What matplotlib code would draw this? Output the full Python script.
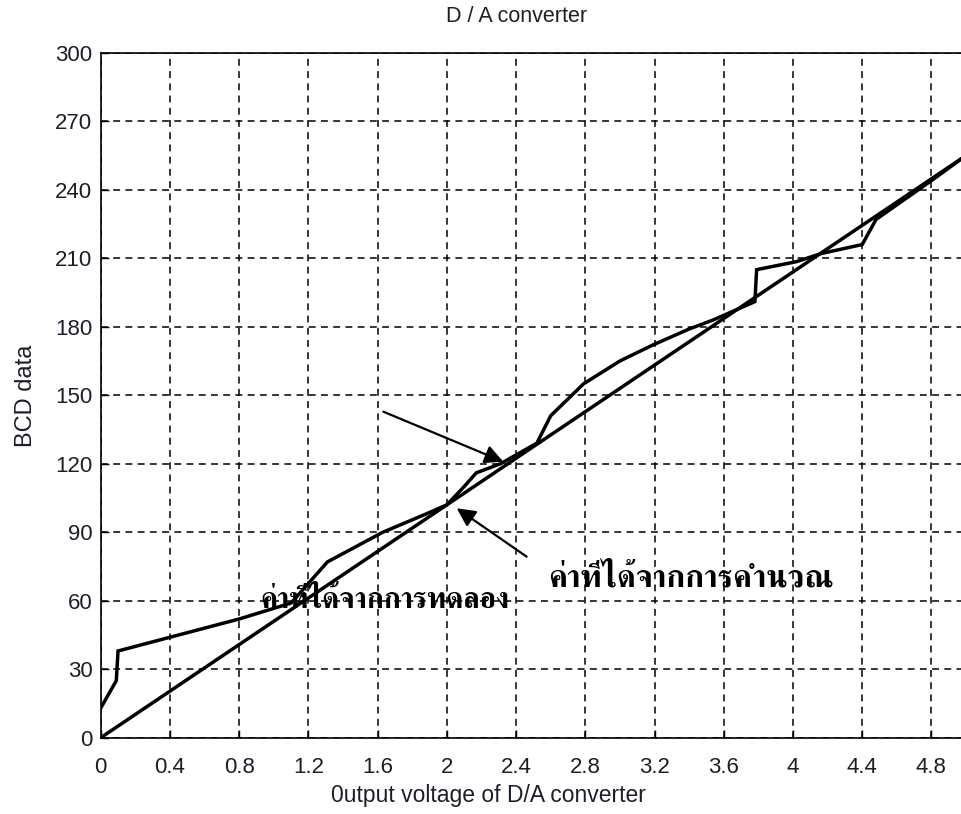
import matplotlib
matplotlib.use("Agg")
import matplotlib.pyplot as plt
from matplotlib import font_manager
from matplotlib.ft2font import FT2Font

# Measured D/A output (experiment) and computed values
exp_volt = [0.00, 0.09, 0.10, 0.80, 1.10, 1.31, 1.63, 1.88, 2.00, 2.10, 2.17, 2.31,
            2.38, 2.52, 2.60, 2.79, 3.00, 3.19, 3.40, 3.54, 3.78, 3.79, 4.02, 4.16,
            4.40, 4.48, 4.80, 5.00]
exp_bcd = [13, 25, 38, 52, 59, 77, 90, 98, 102, 110, 116, 120,
           123, 129, 141, 155, 165, 172, 179, 183, 191, 205, 208.5, 212,
           216, 227, 244, 255]

calc_volt = [0.0, 5.0]
calc_bcd = [0, 255]

x_ticks = [0, 0.4, 0.8, 1.2, 1.6, 2, 2.4, 2.8, 3.2, 3.6, 4, 4.4, 4.8]
x_tick_labels = ["0", "0.4", "0.8", "1.2", "1.6", "2", "2.4", "2.8", "3.2", "3.6", "4", "4.4", "4.8"]
y_ticks = [0, 30, 60, 90, 120, 150, 180, 210, 240, 270, 300]

label_exp = "ค่าที่ได้จากการทดลอง"
label_calc = "ค่าที่ได้จากการคำนวณ"


def thai_font():
    """Pick an installed font that actually contains Thai glyphs."""
    preferred = []
    others = []
    for f in font_manager.fontManager.ttflist:
        try:
            cmap = FT2Font(f.fname).get_charmap()
        except Exception:
            continue
        if 0x0E04 in cmap and 0x0E32 in cmap:
            if "Serif" in f.name:
                preferred.append(f.name)
            else:
                others.append(f.name)
    names = preferred + others
    return names[0] if names else "DejaVu Sans"


thai = thai_font()
txt_color = "#1e1e2a"

fig = plt.figure(figsize=(9.62, 8.14), dpi=100)
ax = fig.add_axes([0.1047, 0.0937, 0.8995, 0.8415])

ax.plot(calc_volt, calc_bcd, color="black", lw=2.5, solid_joinstyle="miter")
ax.plot(exp_volt, exp_bcd, color="black", lw=2.5, solid_joinstyle="miter")

ax.set_xlim(0, 5)
ax.set_ylim(0, 300)
ax.set_xticks(x_ticks)
ax.set_xticklabels(x_tick_labels)
ax.set_yticks(y_ticks)

ax.grid(True, color="black", linestyle=(0, (4.5, 3.5)), linewidth=1.1)
ax.tick_params(direction="in", length=6, width=1, colors="black",
               labelcolor=txt_color, labelsize=16)
ax.tick_params(axis="x", pad=14)
ax.tick_params(axis="y", pad=6)
for lab in ax.get_xticklabels() + ax.get_yticklabels():
    lab.set_family("Liberation Sans")
for s in ax.spines.values():
    s.set_linewidth(1.2)

fig.text(0.537, 0.980, "D / A converter", ha="center", va="center",
         fontsize=15.5, family="Liberation Sans", color=txt_color)
fig.text(0.508, 0.023, "0utput voltage of D/A converter", ha="center", va="center",
         fontsize=16.5, family="Liberation Sans", color=txt_color)
fig.text(0.027, 0.514, "BCD data", ha="center", va="center", rotation=90,
         fontsize=17, family="Liberation Sans", color=txt_color)

ax.text(0.92, 60, label_exp, fontsize=20.8, fontweight="bold", family=[thai, "DejaVu Sans"],
        ha="left", va="center", color="black")
ax.text(2.584, 70, label_calc, fontsize=23, fontweight="bold", family=[thai, "DejaVu Sans"],
        ha="left", va="center", color="black")

arrow = dict(arrowstyle="-|>", color="black", lw=1.6, mutation_scale=28,
             shrinkA=0, shrinkB=0)
ax.annotate("", xy=(2.326, 120.9), xytext=(1.633, 142.8), arrowprops=arrow)
ax.annotate("", xy=(2.057, 100.5), xytext=(2.461, 79.3), arrowprops=arrow)

fig.savefig("out.png", dpi=100)
